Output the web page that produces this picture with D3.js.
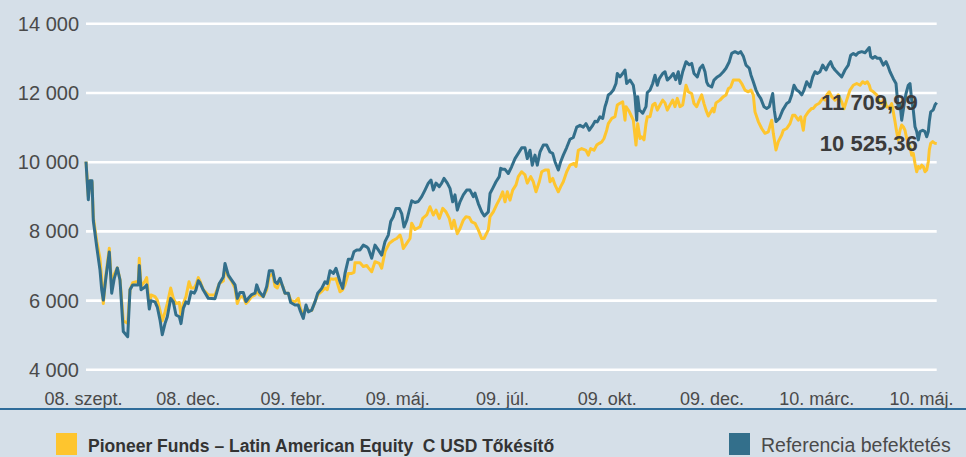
<!DOCTYPE html>
<html>
<head>
<meta charset="utf-8">
<script src="https://cdn.jsdelivr.net/npm/d3@7"></script>
<style>
html,body{margin:0;padding:0;background:#d5dfe8;}
svg{display:block;}
text{font-family:"Liberation Sans",Arial,sans-serif;}
</style>
</head>
<body>
<svg id="chart" width="966" height="457"></svg>
<script>
// ---- DATA ----
const xLabels = ["08. szept.","08. dec.","09. febr.","09. máj.","09. júl.","09. okt.","09. dec.","10. márc.","10. máj."];
const yTicks = [4000,6000,8000,10000,12000,14000];
const seriesNames = ["Pioneer Funds – Latin American Equity  C USD Tőkésítő","Referencia befektetés"];
const lastLabels = ["10 525,36","11 709,99"];

// time step index (sampling position along the period) and values, reference index
const refT = [0,2.3,4,6,7.3,10.7,14,15.7,17.3,20,23.3,25.7,28.3,31.3,34,37.3,41.7,44,46.7,52.3,53.3,55,59,60.7,63.3,65,69,71.3,74,76.3,79,81.3,84.7,87.3,90,93.3,95,97.3,100,102.3,105,108.3,110,112.3,114,117.3,122.3,129,133.3,137.3,139,142.3,145.7,149,151.3,154,157.3,160,162.3,165.7,169,170.7,173.3,177.3,180.7,183.3,186.7,189,191.3,194,196.7,199,202.3,204.7,209,212.3,214,217.3,220,222.3,225.7,229,231.7,235.7,239,241.3,244,247.3,250,254,256.7,259,262.3,265.7,268,270.7,274,277.3,280.7,282.3,285.7,289,292.3,295.7,299,302.3,304.7,307.3,310,313.3,315.7,318,320.7,323.3,325.7,329,332.3,335.7,339,342.3,345,347.3,350,353.3,355.7,358,361.3,364,366.7,369,371.3,374,377.3,380.7,384,387.3,389,392.3,395.7,398.3,402.3,404,406.7,410,413.3,414.7,417,419,422.3,425.7,429,432.3,435.7,439,441.3,444,446.3,449,451.3,454,457.3,460.7,464,466.7,469,472.3,474.7,477.3,480.7,484,487.3,490.7,494,497.3,500,503.3,506.7,509,511.3,514,516.7,519,520.7,522.3,524.7,527.3,530,531.3,534,536.7,539,540.7,544,547.3,549,550.7,551.7,553.3,556.7,560,561.3,564,566.7,569,571.3,573.3,576.7,579,581.3,584.7,587.3,589.7,592.3,594,596.7,600,603.3,605.7,608,611.3,614,616.7,619,620.7,622.3,625.7,628,631.3,634,637.3,640,643.3,645.7,649,652.3,654.7,657.3,660,663.3,665,667.3,670,672.3,674.7,678,680.7,683.3,686.7,688.3,690,693.3,696.7,700.7,703.3,705.7,708,710.7,713.3,715.7,718,720.7,724,726.7,729,731.3,734,736.7,740,742.3,744.7,746.7,749,752.3,755.7,759,762.3,764.7,767.3,770,772.3,775.7,779,781.3,783.3,784.7,786.7,789,791.3,794,797.3,800,802.3,804,807.3,810,812.3,814,815.7,818,820,822.3,824,825.7,827.3,829,830.7,832.3,834,836.7,839,840.7,842.3,843.3,844.7,847.3,849,850.7];
const refV = [10000,8900,9450,9450,8300,7550,6870,6300,6000,6670,7390,6200,6630,6930,6580,5090,4940,6300,6440,6440,7000,6300,6380,6440,5740,5980,5950,5800,5430,5000,5320,5520,6050,5950,5570,5520,5320,5760,5950,5900,6240,6200,6300,6560,6500,6290,6050,6040,6480,6670,7060,6720,6580,6440,6050,6220,6220,5960,6050,6160,6200,6440,6240,6100,6390,6850,6850,6530,6480,6630,6390,6200,6200,5930,5860,5860,5710,5470,5860,5660,5710,5950,6200,6340,6530,6480,6850,6770,6920,6530,6340,6770,7180,7180,7400,7450,7450,7590,7540,7490,7210,7590,7450,7300,7690,7880,8270,8410,8650,8650,8500,8110,8300,8600,8870,8820,8850,8990,9180,9380,9470,9180,9380,9280,9380,9520,9380,9230,8840,9040,8600,8840,9040,9180,9180,8990,9090,8790,8550,8430,8550,9080,9230,9420,9570,9810,9780,9780,9660,9860,10090,10240,10400,10400,10090,10330,9900,10190,9900,10280,10480,10480,10280,10240,10000,9760,10000,10190,10410,10650,10700,11000,11050,11000,11100,10910,11050,11170,11150,11300,11250,11590,11740,11930,11980,12070,12260,12550,12450,12550,12650,12260,12360,12210,11880,11200,11880,11500,11400,11590,12000,12070,12260,12500,12210,12400,12550,12600,12360,12450,12550,12370,12600,12260,12600,12890,12800,12840,12550,12450,12700,12790,12600,12300,12210,12160,12360,12450,12500,12600,12700,12890,13130,13180,13130,13180,13050,12790,12700,12500,12310,12070,11930,11830,11590,11540,11590,11970,11490,11160,11250,11490,11680,11730,11930,12210,12070,12020,11930,12070,12310,12160,12450,12600,12550,12600,12790,12650,12790,12890,12740,12650,12550,12450,12650,12790,13080,13130,13080,13150,13180,13150,13230,13300,13040,12990,13040,12990,12990,12790,12890,12740,12600,12400,12260,11530,11680,11200,11630,11970,12210,12260,11780,11490,11010,10870,10630,10870,10910,10870,10720,10870,11160,11440,11500,11640,11709.99];

// fund
const fundT = [0,2.3,4,6,7.3,10.7,14,15.7,17.3,20,23.3,25.7,28.3,31.3,34,37.3,41.7,44,46.7,52.3,53.3,55,59,60.7,63.3,65,69,71.3,74,76.3,79,81.3,84.7,87.3,90,93.3,95,97.3,100,103,105,108.3,110,112.3,114,117.3,122.3,129,133.3,137.3,139,142.3,145.7,149,151.3,154,157.3,160,162.3,165.7,169,170.7,173.3,177.3,180.7,183.3,186.7,189,191.3,194,196.7,199,202.3,204.7,209,212.3,214,217.3,220,222.3,225.7,229,231.7,235.7,239,241.3,244,247.3,250,254,256.7,259,262.3,265.7,268,269,274,277.3,280.7,282.3,285.7,289,293.3,295.7,299,303.3,307.3,310.7,314,315.7,317.3,320.7,324,325.7,329,334,336.7,340.7,344,347.3,350,353.3,356.7,360,363.3,365.7,368,371.3,374,377.3,380,383.3,385.7,389,392.3,395.7,398,402.3,404,407.3,410.7,414,416.7,419,421.3,424,426.7,430,432.3,435.7,439,441.3,444.7,447.3,450,453.3,455.7,459,462.3,464,466.7,469,472.3,474.7,477.3,480.7,484,488,490,492.3,495.7,500,502.3,504.7,508,510.7,513.3,515.7,518,520.7,522.3,525.7,529,531.3,534,536.7,539,540,543.3,547.3,550,551.7,554,555.7,558,560,561.3,564,566.7,569,571.3,574,576.7,579,581.3,584,586.7,589,591.3,594,596.7,600,602.3,605.7,608,610.7,613.3,615.7,618,620,622.3,624.7,626.7,628,630,634,637.3,640,642.3,644.7,647.3,650.7,653.3,655.7,659,662.3,665,667.3,669,672.3,675.7,679,682.3,685.7,687.3,690,692.3,695.7,697.3,700.7,704,706.7,709,712.3,714.7,717.3,719,722.3,725.7,727.3,730,733.3,736.7,739,740.7,743.3,745.7,749,752.3,755.7,758,760.7,764,767.3,770.7,774,776.7,779,781.3,783.3,784.7,787.3,790.7,793.3,795.7,798,800.7,804,805.7,807.3,809,810.7,812.3,814,815.7,817.3,819,820.7,822.3,824,825.7,827.3,829,830.7,832.3,834,835.7,837.3,839,840.7,842.3,843.3,844.7,846.7,849,850.7];
const fundV = [10000,9000,9450,9400,8400,7700,7200,6600,5900,6750,7500,6350,6750,6930,6600,5400,5330,6300,6500,6550,7210,6400,6550,6650,5850,6150,6100,6000,5700,5400,5650,5900,6350,6050,5900,5930,5550,5900,6100,6530,6350,6350,6450,6650,6550,6300,6150,6150,6480,6550,6950,6680,6550,6350,5900,6100,6100,5900,5970,6100,6150,6300,6150,6100,6300,6700,6750,6400,6350,6550,6400,6200,6200,6000,5950,6050,5800,5550,5800,5700,5700,5950,6150,6250,6350,6300,6620,6600,6620,6240,6300,6450,6770,6770,6800,7080,7080,6970,7000,6940,6820,7110,7060,6920,7400,7640,7730,7780,7880,7730,7490,7640,7780,8220,8040,8120,8360,8460,8700,8460,8600,8360,8650,8550,8360,8070,8310,7920,8070,8310,8410,8390,8260,8220,8030,7780,7780,8030,8410,8550,8760,8940,9130,8840,9130,8890,9180,9330,9570,9710,9620,9380,9570,9420,9130,9420,9710,9760,9760,9420,9520,9330,9130,9280,9420,9710,9900,9950,9860,10330,10380,10330,10190,10380,10330,10480,10530,10570,10670,10910,11100,11250,11300,11640,11690,11730,11200,11590,11450,11200,10480,11100,10670,10720,10630,11100,11300,11300,11640,11690,11490,11640,11780,11700,11490,11640,11780,11590,11830,11590,11640,12210,12020,11970,11680,11590,11780,11930,11680,11490,11320,11440,11540,11440,11700,11780,11880,11930,12110,12160,12360,12360,12360,12260,12070,12020,12070,11930,11440,11160,10960,10820,10860,11200,10820,10340,10580,10770,10910,10960,11100,11340,11340,11200,11300,10910,11300,11440,11540,11540,11640,11690,11830,11780,11930,12020,11880,11780,11930,11730,11530,11780,12070,12210,12260,12210,12310,12260,12310,12210,12070,12020,11930,11730,11680,11830,11580,11580,11680,11440,11160,10860,10630,10910,11060,11010,10910,10670,10530,10430,10190,10240,9950,9710,9860,9810,9900,9860,9710,9760,10000,10340,10530,10580,10530,10525.36];

// ---- CHART ----
const W = 966, H = 457;
const svg = d3.select("#chart");
const colFund = "#fec52e", colRef = "#336f8b";

svg.append("rect").attr("width", W).attr("height", H).attr("fill", "#d5dfe8");

const x = d3.scaleLinear().domain([0, d3.max(refT)]).range([86, 936.7]);
const y = d3.scaleLinear().domain([4000, 14000]).range([369.3, 23.3]);
const xl = d3.scalePoint().domain(xLabels).range([83, 921]);

// grid + y labels
const yAxis = d3.axisLeft(y).tickValues(yTicks).tickSize(-(x.range()[1] - x.range()[0]))
  .tickFormat(d => d3.format(",")(d).replace(/,/g, " "));
const gy = svg.append("g").attr("transform", `translate(${x.range()[0]},0)`).call(yAxis);
gy.select(".domain").remove();
gy.selectAll(".tick line").attr("stroke", "#ffffff").attr("stroke-width", 2.6);
gy.selectAll(".tick text").attr("x", -7).attr("dy", "0.35em")
  .attr("fill", "#4a4a4a").attr("font-size", 20)
  .style("font-family", '"Liberation Sans",Arial,sans-serif');

// x labels
const xAxis = d3.axisBottom(xl).tickSize(0);
const gx = svg.append("g").attr("transform", "translate(0,405)").call(xAxis);
gx.select(".domain").remove();
gx.selectAll(".tick text").attr("y", 0).attr("dy", 0)
  .attr("fill", "#4a4a4a").attr("font-size", 18)
  .style("font-family", '"Liberation Sans",Arial,sans-serif');

// bottom rule
svg.append("line").attr("x1", 0).attr("x2", W).attr("y1", 409).attr("y2", 409)
  .attr("stroke", "#2f6c9a").attr("stroke-width", 2);

// lines
const line = d3.line().x(d => x(d[0])).y(d => y(d[1])).curve(d3.curveLinear);
const fundData = d3.zip(fundT, fundV);
const refData = d3.zip(refT, refV);
svg.append("path").datum(fundData).attr("d", line).attr("fill", "none")
  .attr("stroke", colFund).attr("stroke-width", 3).attr("stroke-linejoin", "round");
svg.append("path").datum(refData).attr("d", line).attr("fill", "none")
  .attr("stroke", colRef).attr("stroke-width", 3).attr("stroke-linejoin", "round");

// end value labels
const ends = [[fundT[fundT.length-1], fundV[fundV.length-1], lastLabels[0]],
              [refT[refT.length-1], refV[refV.length-1], lastLabels[1]]];
svg.selectAll(".endlab").data(ends).join("text").attr("class", "endlab")
  .attr("x", d => x(d[0]) - 19).attr("y", d => y(d[1])).attr("dy", "0.35em")
  .attr("text-anchor", "end").attr("font-size", 22).attr("font-weight", "bold")
  .attr("fill", "#3b3b3b").text(d => d[2]);

// legend
const leg = [{name: seriesNames[0], color: colFund, bold: true, x: 56, fs: 17.5},
             {name: seriesNames[1], color: colRef, bold: false, x: 729, fs: 19.5}];
const lg = svg.selectAll(".leg").data(leg).join("g").attr("class", "leg")
  .attr("transform", d => `translate(${d.x},0)`);
lg.append("rect").attr("x", 0).attr("y", 433).attr("width", 21).attr("height", 22).attr("fill", d => d.color);
lg.append("text").attr("x", 32).attr("y", 452).attr("font-size", d => d.fs)
  .style("white-space", "pre").attr("xml:space", "preserve")
  .attr("font-weight", d => d.bold ? "bold" : "normal")
  .attr("fill", d => d.bold ? "#333" : "#4a4a4a").text(d => d.name);
</script>
</body>
</html>
